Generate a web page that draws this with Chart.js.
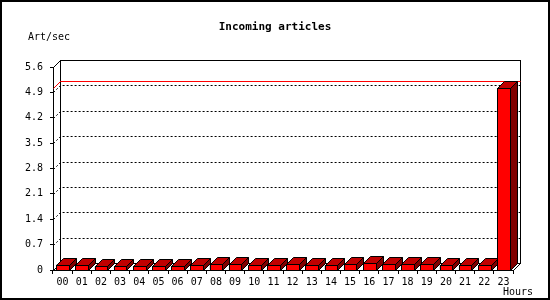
<!DOCTYPE html>
<html>
<head>
<meta charset="utf-8">
<script src="https://cdn.jsdelivr.net/npm/chart.js@4/dist/chart.umd.min.js"></script>
<style>
html,body{margin:0;padding:0;background:#fff;}
canvas{display:block;}
</style>
</head>
<body>
<canvas id="c" width="550" height="300"></canvas>
<script>
const hours = ["00","01","02","03","04","05","06","07","08","09","10","11","12","13","14","15","16","17","18","19","20","21","22","23"];
const artPerSec = [0.15,0.13,0.10,0.10,0.10,0.10,0.10,0.13,0.16,0.16,0.13,0.13,0.16,0.13,0.13,0.16,0.19,0.16,0.16,0.16,0.13,0.13,0.13,5.02];
const yTicks = [0,0.7,1.4,2.1,2.8,3.5,4.2,4.9,5.6];
const titleText = "Incoming articles";
const yUnit = "Art/sec";
const xUnit = "Hours";

const DX = 7, DY = 7;
const MONO = "'DejaVu Sans Mono', 'Liberation Mono', monospace";

const frame3d = {
  id: 'frame3d',
  beforeDraw(chart) {
    const ctx = chart.ctx;
    ctx.save();
    ctx.fillStyle = '#fff';
    ctx.fillRect(0, 0, chart.width, chart.height);
    ctx.restore();
  },
  beforeDatasetsDraw(chart) {
    const ctx = chart.ctx, a = chart.chartArea, y = chart.scales.y;
    ctx.save();
    ctx.lineWidth = 1;
    // back plane
    ctx.strokeStyle = '#000';
    ctx.strokeRect(Math.round(a.left + DX) + 0.5, Math.round(a.top - DY) + 0.5, Math.round(a.right - a.left), Math.round(a.bottom - a.top));
    // top diagonal and bottom diagonals
    ctx.beginPath();
    ctx.moveTo(a.left + 0.5, a.top + 0.5); ctx.lineTo(a.left + DX + 0.5, a.top - DY + 0.5);
    ctx.moveTo(a.left + 0.5, a.bottom + 0.5); ctx.lineTo(a.left + DX + 0.5, a.bottom - DY + 0.5);
    ctx.moveTo(a.right + 0.5, a.bottom + 0.5); ctx.lineTo(a.right + DX + 0.5, a.bottom - DY + 0.5);
    ctx.stroke();
    // dotted gridlines
    ctx.setLineDash([2, 2]);
    yTicks.forEach(v => {
      if (v <= 0 || v >= y.max) return;
      const py = Math.round(y.getPixelForValue(v)) + 0.5;
      ctx.beginPath();
      ctx.moveTo(a.left + 0.5, py);
      ctx.lineTo(a.left + DX + 0.5, py - DY);
      ctx.lineTo(a.right + DX + 0.5, py - DY);
      ctx.stroke();
    });
    ctx.setLineDash([]);
    // max line in red
    const mx = Math.max(...artPerSec);
    const my = Math.round(y.getPixelForValue(mx)) + 0.5;
    ctx.strokeStyle = '#ff0000';
    ctx.beginPath();
    ctx.moveTo(a.left + 0.5, my);
    ctx.lineTo(a.left + DX + 0.5, my - DY);
    ctx.lineTo(a.right + DX + 0.5, my - DY);
    ctx.stroke();
    // floor shadows
    const meta = chart.getDatasetMeta(0);
    ctx.fillStyle = '#808080';
    meta.data.forEach(bar => {
      const x1 = Math.round(bar.x - bar.width / 2), x2 = Math.round(bar.x + bar.width / 2);
      const b = Math.round(bar.base);
      ctx.beginPath();
      ctx.moveTo(x1, b); ctx.lineTo(x2, b); ctx.lineTo(x2 + DX, b - DY); ctx.lineTo(x1 + DX, b - DY);
      ctx.closePath(); ctx.fill();
    });
    ctx.restore();
  },
  afterDatasetsDraw(chart) {
    const ctx = chart.ctx;
    const meta = chart.getDatasetMeta(0);
    ctx.save();
    ctx.lineWidth = 1;
    ctx.strokeStyle = '#000';
    meta.data.forEach(bar => {
      const x1 = Math.round(bar.x - bar.width / 2) + 0.5, x2 = Math.round(bar.x + bar.width / 2) + 0.5;
      const t = Math.round(bar.y) + 0.5, b = Math.round(bar.base) + 0.5;
      // side
      ctx.fillStyle = '#800000';
      ctx.beginPath();
      ctx.moveTo(x2, b); ctx.lineTo(x2 + DX, b - DY); ctx.lineTo(x2 + DX, t - DY); ctx.lineTo(x2, t);
      ctx.closePath(); ctx.fill(); ctx.stroke();
      // top
      ctx.fillStyle = '#c00000';
      ctx.beginPath();
      ctx.moveTo(x1, t); ctx.lineTo(x2, t); ctx.lineTo(x2 + DX, t - DY); ctx.lineTo(x1 + DX, t - DY);
      ctx.closePath(); ctx.fill(); ctx.stroke();
      // front
      ctx.fillStyle = '#ff0000';
      ctx.fillRect(x1, t, x2 - x1, b - t);
      ctx.strokeRect(x1, t, x2 - x1, b - t);
    });
    ctx.restore();
  },
  afterDraw(chart) {
    const ctx = chart.ctx;
    ctx.save();
    ctx.fillStyle = '#000';
    ctx.textBaseline = 'middle';
    ctx.font = 'bold 11px ' + MONO;
    ctx.textAlign = 'center';
    ctx.fillText(titleText, 275, 27);
    ctx.font = '10px ' + MONO;
    ctx.textAlign = 'left';
    ctx.fillText(yUnit, 28, 37);
    ctx.fillText(xUnit, 503, 292);
    // outer border
    ctx.lineWidth = 2;
    ctx.strokeStyle = '#000';
    ctx.strokeRect(1, 1, chart.width - 2, chart.height - 2);
    ctx.restore();
  }
};

new Chart(document.getElementById('c'), {
  type: 'bar',
  data: {
    labels: hours,
    datasets: [{
      data: artPerSec,
      backgroundColor: '#ff0000',
      borderColor: '#000',
      borderWidth: 1,
      categoryPercentage: 1,
      barPercentage: 0.66
    }]
  },
  options: {
    responsive: false,
    animation: false,
    devicePixelRatio: 1,
    layout: { padding: { top: 67, right: 37, left: 0, bottom: 0 } },
    plugins: { legend: { display: false }, title: { display: false }, tooltip: { enabled: false } },
    scales: {
      x: {
        afterFit(s) { s.height = 30; },
        grid: { display: true, drawOnChartArea: false, offset: true, tickLength: 4, color: '#000' },
        border: { display: true, color: '#000' },
        ticks: { font: { family: MONO, size: 10 }, color: '#000', padding: 2, maxRotation: 0, autoSkip: false }
      },
      y: {
        min: 0, max: 5.6,
        afterFit(s) { s.width = 53; },
        afterBuildTicks(s) { s.ticks = yTicks.map(v => ({ value: v })); },
        grid: { display: true, drawOnChartArea: false, tickLength: 3, color: '#000' },
        border: { display: true, color: '#000' },
        ticks: {
          font: { family: MONO, size: 10 }, color: '#000', padding: 7,
          callback: v => (v === 0 ? '0' : v.toFixed(1))
        }
      }
    }
  },
  plugins: [frame3d]
});
</script>
</body>
</html>
